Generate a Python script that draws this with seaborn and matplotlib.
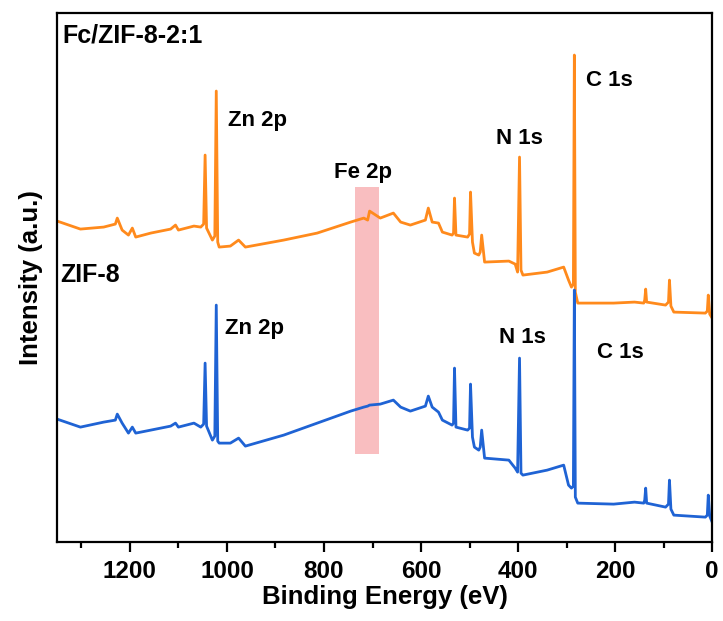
import numpy as np
import pandas as pd
import matplotlib
matplotlib.use("Agg")
import matplotlib.pyplot as plt
import seaborn as sns

# binding energy grid (eV)
energy = [1350, 1302, 1254, 1230, 1226, 1216, 1203, 1195, 1188, 1157, 1116, 1106,
          1100, 1068, 1054, 1048, 1045, 1042, 1030, 1025, 1022, 1019, 1016, 993,
          976, 962, 883, 814, 745, 718, 710, 706, 684, 657, 642, 622, 591, 585,
          577, 564, 556, 536, 533, 531, 528, 504, 500, 498, 494, 490, 481, 478,
          475, 469, 419, 406, 401, 397, 394, 390, 340, 306, 296, 290, 286, 284,
          282, 277, 203, 160, 141, 139, 137, 135, 96, 90, 88, 85, 79, 14, 10, 8,
          5, 0]

# Fc/ZIF-8-2:1 (already offset upward, a.u.)
fc_zif8 = [321, 313, 315, 318, 324, 312, 307, 314, 305, 309, 313, 317,
           312, 316, 315, 318, 387, 314, 302, 306, 451, 300, 295, 296,
           302, 295, 302, 309, 320, 324, 322, 331, 324, 329, 320, 317, 322, 334,
           320, 319, 310, 307, 309, 344, 307, 305, 308, 350, 300, 289, 287, 290,
           307, 280, 281, 278, 270, 385, 272, 267, 270, 275, 262, 255, 258, 487,
           250, 239, 239, 240, 239, 242, 253, 240, 237, 240, 262, 236, 230, 229, 231, 247,
           228, 224]

# ZIF-8 (a.u.)
zif8 = [123, 115, 120, 122, 128, 119, 109, 115, 109, 112, 116, 119,
        115, 119, 115, 118, 179, 116, 102, 106, 237, 101, 99, 99,
        104, 96, 107, 119, 131, 135, 136, 137, 138, 142, 135, 131, 136, 146,
        135, 130, 122, 117, 119, 174, 115, 112, 114, 158, 105, 95, 92, 95,
        112, 84, 82, 74, 70, 184, 69, 67, 72, 77, 57, 54, 56, 252,
        45, 39, 38, 40, 39, 42, 54, 39, 35, 38, 62, 33, 27, 25, 27, 47,
        26, 20]

# Fe 2p highlight window
fe_band_x = [737, 686]
fe_band_y = [88, 355]

sns.set_style("ticks")
plt.rcParams["font.family"] = ["Liberation Sans", "DejaVu Sans"]
plt.rcParams["font.weight"] = "bold"
plt.rcParams["text.color"] = "black"
plt.rcParams["axes.labelcolor"] = "black"
plt.rcParams["xtick.color"] = "black"
plt.rcParams["xtick.labelcolor"] = "black"

fig, ax = plt.subplots(figsize=(7.23, 6.21), dpi=100)
fig.subplots_adjust(left=0.079, right=0.985, top=0.979, bottom=0.127)

ax.fill_between(fe_band_x, fe_band_y[0], fe_band_y[1], color="#f7a9ab", alpha=0.75,
                lw=0, zorder=1)

df = pd.DataFrame({"energy": energy, "Fc/ZIF-8-2:1": fc_zif8, "ZIF-8": zif8})
sns.lineplot(data=df, x="energy", y="Fc/ZIF-8-2:1", color="#ff8a1c", lw=2.0,
             ax=ax, zorder=2)
sns.lineplot(data=df, x="energy", y="ZIF-8", color="#1f63d4", lw=2.0,
             ax=ax, zorder=2)

ax.set_xlim(1350, 0)
ax.set_ylim(0, 529)
ax.set_xticks([1200, 1000, 800, 600, 400, 200, 0])
ax.set_xticks([1300, 1100, 900, 700, 500, 300, 100], minor=True)
ax.set_yticks([])
ax.tick_params(axis="x", which="major", length=7, width=1.6, labelsize=17.5, pad=6,
               colors="black")
ax.tick_params(axis="x", which="minor", length=4, width=1.6, colors="black")
for s in ax.spines.values():
    s.set_linewidth(1.6)
    s.set_color("black")

ax.set_xlabel("Binding Energy (eV)", fontsize=18.5, fontweight="bold", labelpad=1)
ax.set_ylabel("Intensity (a.u.)", fontsize=18.5, fontweight="bold", labelpad=10)

kw = dict(fontsize=16, fontweight="bold", ha="left", va="center", color="black")
ax.text(1339, 507, "Fc/ZIF-8-2:1", **{**kw, "fontsize": 18})
ax.text(997, 422, "Zn 2p", **kw)
ax.text(780, 370, "Fe 2p", **kw)
ax.text(446, 404, "N 1s", **kw)
ax.text(261, 462, "C 1s", **kw)
ax.text(1343, 267, "ZIF-8", **{**kw, "fontsize": 18})
ax.text(1003, 214, "Zn 2p", **kw)
ax.text(440, 205, "N 1s", **kw)
ax.text(238, 190, "C 1s", **kw)

plt.savefig("out.png", dpi=100)
